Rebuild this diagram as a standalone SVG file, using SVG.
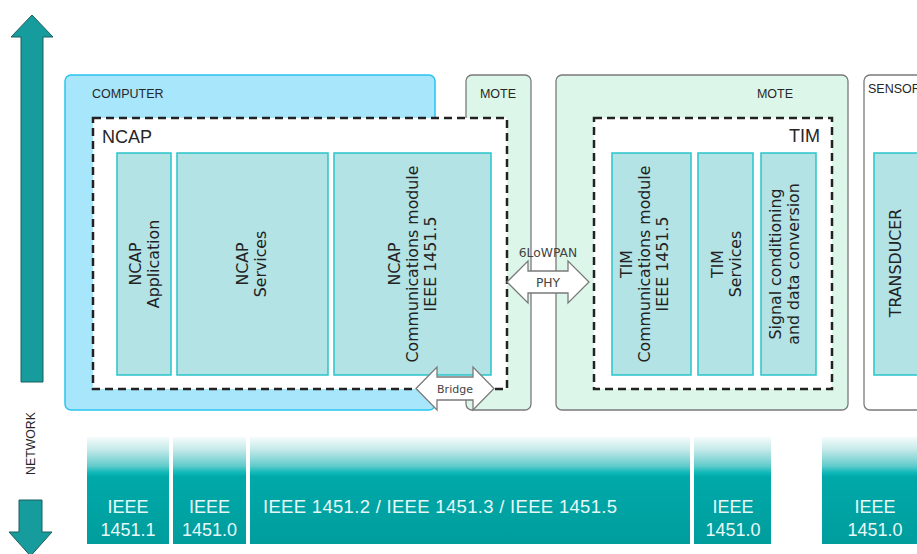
<svg xmlns="http://www.w3.org/2000/svg" width="917" height="554" viewBox="0 0 917 554">
<defs>
<linearGradient id="barGrad" x1="0" y1="0" x2="0" y2="1">
<stop offset="0" stop-color="#f6fcfc"/>
<stop offset="0.12" stop-color="#c4e9e9"/>
<stop offset="0.27" stop-color="#62cbcb"/>
<stop offset="0.33" stop-color="#12b9b9"/>
<stop offset="0.37" stop-color="#00a9a9"/>
<stop offset="1" stop-color="#009d9d"/>
</linearGradient>
<style>
.lbl{font-family:"Liberation Sans",Arial,sans-serif;fill:#262626}
.small{font-size:12.5px}
.big{font-size:18px}
.outer-mote{fill:#dcf7e9;stroke:#7a7a7a;stroke-width:1.3}
.dash{fill:#ffffff;stroke:#222;stroke-width:2.5;stroke-dasharray:8 5}
.inner{fill:#b4e3e6;stroke:#2ac5c9;stroke-width:1.5}
.itxt{font-family:"DejaVu Sans",Verdana,sans-serif;font-size:15.8px;fill:#222;text-anchor:middle}
.netarrow{fill:#169c9c;stroke:#1f5c5c;stroke-width:1}
.dbl{fill:#ffffff;stroke:#7a7a7a;stroke-width:1.3}
.atxt{font-family:"DejaVu Sans",Verdana,sans-serif;fill:#444;text-anchor:middle}
.bar{fill:url(#barGrad)}
.btxt{font-family:"Liberation Sans",Arial,sans-serif;font-size:18px;fill:#e8f8f8;text-anchor:middle}
.btxt-start{font-family:"Liberation Sans",Arial,sans-serif;font-size:18.5px;fill:#e8f8f8;text-anchor:start}
</style>
</defs>
<rect width="917" height="554" fill="#ffffff"/>

<!-- Outer containers -->
<g id="computer">
<rect x="65" y="75" width="370" height="335" rx="6" fill="#a8e6fb" stroke="#2bc4ef" stroke-width="1.5"/>
<text class="lbl small" x="92" y="98">COMPUTER</text>
</g>
<g id="mote-small">
<rect x="466" y="75" width="65" height="335" rx="6" class="outer-mote"/>
<text class="lbl small" x="498" y="98" text-anchor="middle">MOTE</text>
</g>
<g id="mote-big">
<rect x="556" y="75" width="292" height="335" rx="6" class="outer-mote"/>
<text class="lbl small" x="775" y="98" text-anchor="middle">MOTE</text>
</g>
<g id="sensor">
<rect x="864" y="75" width="70" height="335" rx="6" fill="#ffffff" stroke="#7a7a7a" stroke-width="1.3"/>
<text class="lbl small" x="868" y="93">SENSOR</text>
</g>

<!-- Dashed groups -->
<g id="ncap">
<rect x="93" y="118" width="414" height="271" class="dash"/>
<text class="lbl big" x="102" y="143">NCAP</text>
</g>
<g id="tim">
<rect x="594" y="118" width="238" height="271" class="dash"/>
<text class="lbl big" x="820" y="142" text-anchor="end">TIM</text>
</g>

<!-- Inner modules -->
<g id="ncap-application">
<rect x="117" y="153" width="54" height="222" class="inner"/>
<text class="itxt" transform="translate(0,264) rotate(-90)"><tspan x="0" y="141">NCAP</tspan><tspan x="0" y="159">Application</tspan></text>
</g>
<g id="ncap-services">
<rect x="177" y="153" width="151" height="222" class="inner"/>
<text class="itxt" transform="translate(0,264) rotate(-90)"><tspan x="0" y="248">NCAP</tspan><tspan x="0" y="266">Services</tspan></text>
</g>
<g id="ncap-comm">
<rect x="334" y="153" width="157" height="222" class="inner"/>
<text class="itxt" transform="translate(0,264) rotate(-90)"><tspan x="0" y="400">NCAP</tspan><tspan x="0" y="418">Communications module</tspan><tspan x="0" y="436">IEEE 1451.5</tspan></text>
</g>
<g id="tim-comm">
<rect x="612" y="153" width="79" height="222" class="inner"/>
<text class="itxt" transform="translate(0,264) rotate(-90)"><tspan x="0" y="632">TIM</tspan><tspan x="0" y="650">Communications module</tspan><tspan x="0" y="668">IEEE 1451.5</tspan></text>
</g>
<g id="tim-services">
<rect x="698" y="153" width="55" height="222" class="inner"/>
<text class="itxt" transform="translate(0,264) rotate(-90)"><tspan x="0" y="723">TIM</tspan><tspan x="0" y="741">Services</tspan></text>
</g>
<g id="signal-conditioning">
<rect x="761" y="153" width="55" height="222" class="inner"/>
<text class="itxt" transform="translate(0,264) rotate(-90)"><tspan x="0" y="781">Signal conditioning</tspan><tspan x="0" y="799">and data conversion</tspan></text>
</g>
<g id="transducer">
<rect x="874" y="153" width="60" height="222" class="inner"/>
<text class="itxt" transform="translate(0,263) rotate(-90)"><tspan x="0" y="901">TRANSDUCER</tspan></text>
</g>

<!-- Connectors -->
<g id="connectors">
<path id="phy" class="dbl" d="M507,282 L528,261 L528,271 L568,271 L568,261 L589,282 L568,303 L568,293 L528,293 L528,303 Z"/>
<text class="atxt" x="548" y="257" font-size="12.3">6LoWPAN</text>
<text class="atxt" x="548" y="286.5" font-size="12.3">PHY</text>
<path id="bridge" class="dbl" d="M416,388.5 L437,367 L437,377 L473,377 L473,367 L494,388.5 L473,410 L473,400 L437,400 L437,410 Z"/>
<text class="atxt" x="455" y="392.5" font-size="11">Bridge</text>
</g>

<!-- Network axis -->
<g id="network-axis">
<path class="netarrow" d="M32,15 L53,37 L43,37 L43,382 L21,382 L21,37 L11,37 Z"/>
<path class="netarrow" d="M19,500 L42,500 L42,532 L52,532 L30.5,556 L9,532 L19,532 Z"/>
<text class="lbl" font-size="12.3" text-anchor="middle" transform="translate(35,443.5) rotate(-90)">NETWORK</text>
</g>

<!-- Standards bars -->
<g id="standard-1451-1">
<rect class="bar" x="87" y="437" width="82" height="107"/>
<text class="btxt"><tspan x="128" y="513">IEEE</tspan><tspan x="128" y="536">1451.1</tspan></text>
</g>
<g id="standard-1451-0-a">
<rect class="bar" x="173" y="437" width="73" height="107"/>
<text class="btxt"><tspan x="209.5" y="513">IEEE</tspan><tspan x="209.5" y="536">1451.0</tspan></text>
</g>
<g id="standard-1451-2-3-5">
<rect class="bar" x="250" y="437" width="440" height="107"/>
<text class="btxt-start" x="263" y="513" textLength="354" lengthAdjust="spacing">IEEE 1451.2 / IEEE 1451.3 / IEEE 1451.5</text>
</g>
<g id="standard-1451-0-b">
<rect class="bar" x="694" y="437" width="77" height="107"/>
<text class="btxt"><tspan x="733" y="513">IEEE</tspan><tspan x="733" y="536">1451.0</tspan></text>
</g>
<g id="standard-1451-0-c">
<rect class="bar" x="822" y="437" width="106" height="107"/>
<text class="btxt"><tspan x="875" y="513">IEEE</tspan><tspan x="875" y="536">1451.0</tspan></text>
</g>
</svg>
